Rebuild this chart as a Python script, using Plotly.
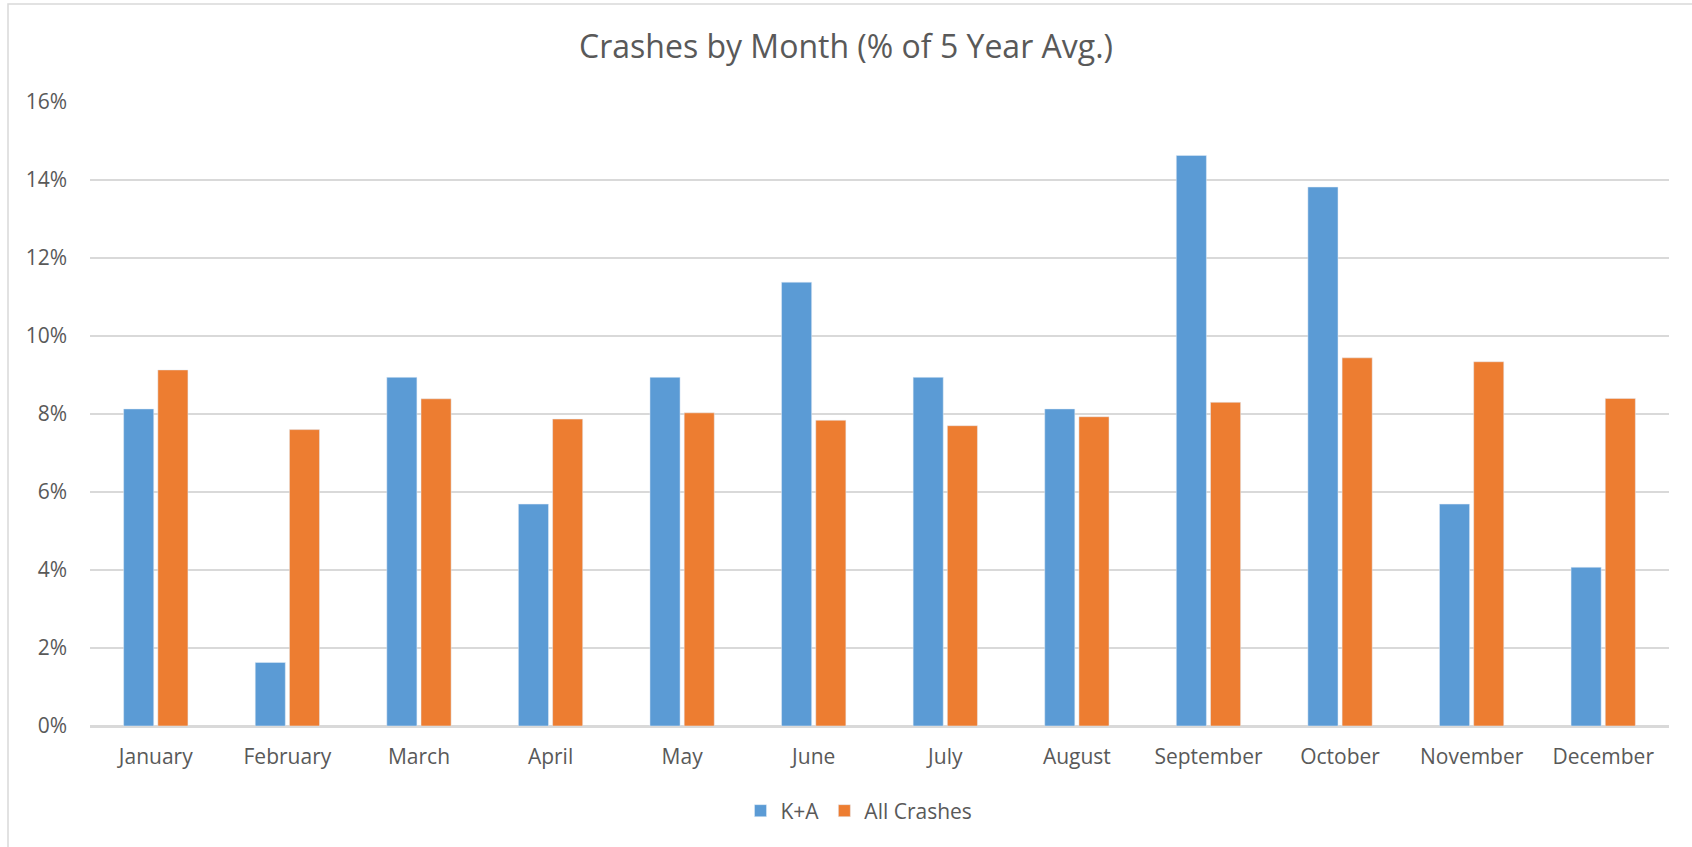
import plotly.graph_objects as go

months = ["January", "February", "March", "April", "May", "June", "July",
          "August", "September", "October", "November", "December"]
ka_pct = [8.13, 1.63, 8.94, 5.69, 8.94, 11.38, 8.94, 8.13, 14.63, 13.82, 5.69, 4.07]
all_pct = [9.13, 7.60, 8.39, 7.87, 8.03, 7.84, 7.70, 7.93, 8.30, 9.44, 9.34, 8.40]
y_ticks = [0, 2, 4, 6, 8, 10, 12, 14, 16]
y_tick_text = [f"{v}%" for v in y_ticks]

W, H = 1692, 847
L, R, T, B = 90, 23, 102, 121
pw, ph = W - L - R, H - T - B

font_family = "Open Sans, Noto Sans, sans-serif"
text_col = "#595959"
grid_col = "#d9d9d9"

fig = go.Figure()
fig.add_trace(go.Bar(x=months, y=ka_pct, name="K+A", marker_color="#5B9BD5"))
fig.add_trace(go.Bar(x=months, y=all_pct, name="All Crashes", marker_color="#ED7D31"))

fig.update_layout(
    width=W, height=H,
    margin=dict(l=L, r=R, t=T, b=B, pad=0, autoexpand=False),
    paper_bgcolor="white", plot_bgcolor="white",
    barmode="group", bargap=0.48, bargroupgap=0.12,
    font=dict(family=font_family, color=text_col, size=21),
    title=dict(text="Crashes by Month (% of 5 Year Avg.)",
               x=0.5, xanchor="center", y=1 - 47 / H, yanchor="middle",
               font=dict(size=32, color=text_col, family=font_family)),
    legend=dict(orientation="h", x=(859 - L) / pw, xanchor="center",
                y=-(811 - 726) / ph, yanchor="middle",
                font=dict(size=21, color=text_col),
                itemwidth=30, traceorder="normal"),
    xaxis=dict(showgrid=False, showline=True, linecolor=grid_col, linewidth=2,
               ticks="", tickfont=dict(size=21, color=text_col),
               ticklabelstandoff=11, automargin=False),
    yaxis=dict(range=[0, 16], tickvals=y_ticks, ticktext=y_tick_text,
               showgrid=True, gridcolor=grid_col, gridwidth=1.5,
               zeroline=True, zerolinecolor=grid_col, zerolinewidth=2,
               showline=False, ticks="", tickfont=dict(size=21, color=text_col),
               ticklabelstandoff=22, automargin=False),
    shapes=[dict(type="rect", xref="paper", yref="paper",
                 x0=(8 - L) / pw, x1=(W + 5 - L) / pw,
                 y0=-(H + 5 - T - ph) / ph, y1=(H - B - 4) / ph,
                 line=dict(color=grid_col, width=1.5), fillcolor="rgba(0,0,0,0)",
                 layer="below")],
)

fig.write_html("out.html",
               config={"displayModeBar": False},
               post_script="document.body.style.margin='0';document.body.style.overflow='hidden';")
